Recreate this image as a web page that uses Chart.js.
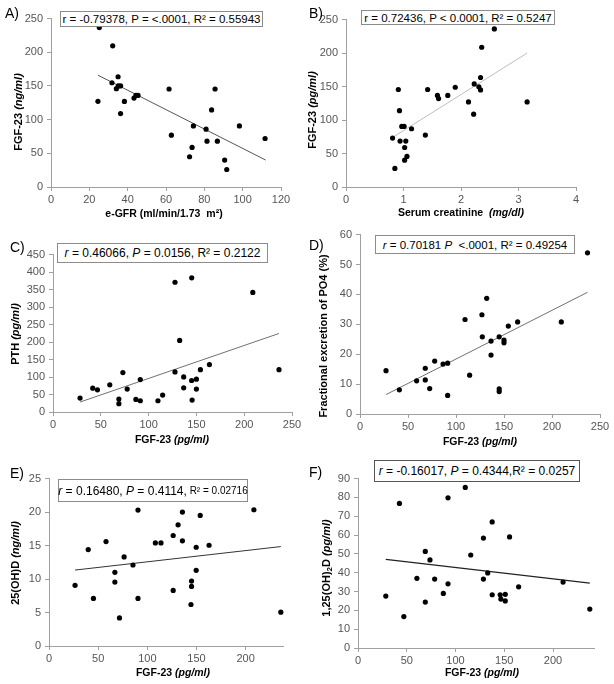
<!DOCTYPE html>
<html><head><meta charset="utf-8">
<script src="https://cdn.jsdelivr.net/npm/chart.js@4.4.0/dist/chart.umd.min.js"></script>
<style>
body{margin:0;background:#fff;width:614px;height:684px;overflow:hidden;position:relative;font-family:"Liberation Sans",Arial,sans-serif;color:#000;}
canvas{position:absolute;}
.lbl{position:absolute;font-size:14px;transform:translateY(-50%);z-index:5;}
.box{position:absolute;border:1px solid #8c8c8c;background:#fff;font-size:11.5px;white-space:nowrap;display:flex;align-items:center;justify-content:center;box-sizing:border-box;z-index:5;}
.xt{position:absolute;font-weight:bold;font-size:10.5px;transform:translate(-50%,-50%);white-space:nowrap;z-index:5;}
.yt{position:absolute;font-weight:bold;font-size:11px;transform:translate(-50%,-50%) rotate(-90deg);white-space:nowrap;z-index:5;}
i{font-style:italic;}
sub{font-size:8px;vertical-align:-2px;}
</style></head><body>
<div id="wrap"></div>
<div class="lbl" style="left:5px;top:13px">A)</div>
<div class="lbl" style="left:309px;top:13px">B)</div>
<div class="lbl" style="left:10px;top:247px">C)</div>
<div class="lbl" style="left:309px;top:245px">D)</div>
<div class="lbl" style="left:10px;top:473px">E)</div>
<div class="lbl" style="left:309px;top:472px">F)</div>

<div class="box" style="left:60px;top:11px;width:203px;height:16px">r = -0.79378, P = &lt;.0001, R² = 0.55943</div>
<div class="box" style="left:361px;top:10px;width:194px;height:15px">r = 0.72436, P &lt; 0.0001, R² = 0.5247</div>
<div class="box" style="left:57px;top:243px;width:211px;height:20px;font-size:12px"><i>r</i>&nbsp;= 0.46066,&nbsp;<i>P</i>&nbsp;= 0.0156, R² = 0.2122</div>
<div class="box" style="left:375px;top:235px;width:200px;height:19px"><i>r</i>&nbsp;= 0.70181&nbsp;<i>P</i>&nbsp; &lt;.0001, R² = 0.49254</div>
<div class="box" style="left:58px;top:479px;width:190px;height:23px;font-size:12px"><i>r</i>&nbsp;= 0.16480,&nbsp;<i>P</i>&nbsp;= 0.4114,<span style="font-size:10px">&nbsp;R² = 0.02716</span></div>
<div class="box" style="left:374px;top:460px;width:206px;height:22px;border:1.5px solid #555;font-size:12px"><i>r</i>&nbsp;= -0.16017,&nbsp;<i>P</i>&nbsp;= 0.4344,R² = 0.0257</div>

<div class="yt" style="left:18px;top:112px">FGF-23 <i>(ng/ml)</i></div>
<div class="yt" style="left:312px;top:110px">FGF-23 <i>(pg/ml)</i></div>
<div class="yt" style="left:15px;top:334px">PTH <i>(pg/ml)</i></div>
<div class="yt" style="left:323px;top:336px">Fractional excretion of PO4 (%)</div>
<div class="yt" style="left:15px;top:563px">25(OH)D <i>(ng/ml)</i></div>
<div class="yt" style="left:327px;top:568px">1,25(OH)<sub>2</sub>D <i>(pg/ml)</i></div>

<div class="xt" style="left:164px;top:213px">e-GFR (ml/min/1.73&nbsp; m²)</div>
<div class="xt" style="left:461px;top:212px">Serum creatinine&nbsp; <i>(mg/dl)</i></div>
<div class="xt" style="left:172px;top:439px">FGF-23 <i>(pg/ml)</i></div>
<div class="xt" style="left:480px;top:441px">FGF-23 <i>(pg/ml)</i></div>
<div class="xt" style="left:173px;top:672px">FGF-23 <i>(pg/ml)</i></div>
<div class="xt" style="left:482px;top:672px">FGF-23 <i>(pg/ml)</i></div>

<script>
// ---- Panel A: FGF-23 vs e-GFR
const egfrA = [25.2, 32.2, 24.5, 31.8, 35.0, 34.1, 35.1, 36.3, 38.3, 36.3, 43.3, 44.3, 45.4, 61.6, 62.8, 74.3, 73.6, 72.3, 80.9, 81.4, 85.6, 83.8, 86.8, 90.6, 91.7, 98.3, 111.7];
const fgfA  = [236.7, 209.6, 127.2, 154.8, 163.7, 146, 150, 150, 127, 109, 132, 136, 136, 145.5, 77, 90.7, 58.7, 44.9, 85.8, 68, 145.5, 114.4, 68, 40, 26, 90.7, 72];
const trendAx = [24.5, 112];
const trendAy = [166, 40];
const xTicksA = [0, 20, 40, 60, 80, 100, 120];
const yTicksA = [0, 50, 100, 150, 200, 250];

// ---- Panel B: FGF-23 vs serum creatinine
const creatB = [2.58, 2.36, 2.34, 2.23, 2.31, 2.34, 1.90, 1.42, 1.59, 1.61, 1.77, 2.13, 3.15, 2.22, 0.91, 0.93, 0.97, 1.01, 1.14, 1.38, 0.81, 0.94, 1.04, 1.02, 1.06, 1.02, 0.85];
const fgfB   = [236, 208.7, 163.5, 154, 149.6, 145, 149, 145.6, 136.7, 132, 136.7, 127, 127, 108.8, 145.6, 114, 90.5, 90.5, 87, 77.5, 73, 68.6, 68.6, 59, 45.7, 40, 27.8];
const trendBx = [0.81, 3.15];
const trendBy = [74, 200];
const xTicksB = [0, 1, 2, 3, 4];
const yTicksB = [0, 50, 100, 150, 200, 250];

// ---- Panel C: PTH vs FGF-23
const fgfC = [28.3, 41.6, 46.5, 59.4, 68.9, 68.9, 73.1, 77.6, 86.7, 91.3, 91.3, 109.8, 114.7, 127.6, 145.1, 132.5, 127.6, 136.7, 136.7, 145, 150, 150, 145.5, 154.2, 163.6, 209, 236.4];
const pthC = [39.8, 68, 63.5, 77.7, 37, 23.7, 112.7, 65.4, 36, 92.8, 32.2, 32.2, 48.3, 371, 383.7, 204.6, 114.6, 100.4, 69.2, 90, 93.8, 65.4, 34, 121, 135.5, 342, 121];
const trendCx = [28.3, 236.4];
const trendCy = [28.4, 224.5];
const xTicksC = [0, 50, 100, 150, 200, 250];
const yTicksC = [0, 50, 100, 150, 200, 250, 300, 350, 400, 450];

// ---- Panel D: Fractional excretion of PO4 vs FGF-23
const fgfD   = [27.1, 41, 59, 68, 68, 72.6, 77.8, 86.5, 91.3, 91.3, 109.4, 114.2, 127, 127.4, 132, 136.5, 136.5, 145, 145, 145, 150, 150, 154.5, 164.2, 209.7, 237];
const fepo4D = [14.5, 8.1, 11.1, 15.3, 11.4, 8.5, 17.7, 16.7, 17, 6.2, 31.6, 13, 33.2, 25.8, 38.7, 24.4, 19.7, 25.8, 8.4, 7.5, 24.7, 23.8, 29.4, 30.8, 30.8, 53.9];
const trendDx = [27.1, 237];
const trendDy = [6.5, 40.7];
const xTicksD = [0, 50, 100, 150, 200, 250];
const yTicksD = [0, 10, 20, 30, 40, 50, 60];

// ---- Panel E: 25(OH)D vs FGF-23
const fgfE = [26.5, 39.9, 45.2, 58, 67, 67, 71.7, 76.4, 85.4, 90.5, 90.5, 108.2, 113.9, 126.3, 126.3, 131.3, 135.7, 135.7, 144.4, 145, 145, 149.7, 149.7, 153.8, 162.8, 208.4, 235.8];
const vitDE = [9.06, 14.4, 7.1, 15.6, 11, 9.55, 4.2, 13.3, 12.1, 20.3, 7.1, 15.4, 15.4, 16.5, 8.3, 18.1, 20, 15.7, 6.2, 9.7, 8.9, 14.75, 11.3, 19.5, 15.05, 20.35, 5.05];
const trendEx = [26.5, 235.8];
const trendEy = [11.34, 14.85];
const xTicksE = [0, 50, 100, 150, 200];
const yTicksE = [0, 5, 10, 15, 20, 25];

// ---- Panel F: 1,25(OH)2D vs FGF-23
const fgfF = [28.5, 42.5, 47, 60.4, 69, 69, 73.8, 78.6, 87.5, 92.3, 92.3, 110, 115.6, 128.6, 128.6, 133, 137.6, 137.6, 145.8, 146.5, 151, 151, 155.4, 164.7, 210.3, 237.7];
const calcF = [27.6, 76.8, 16.7, 37, 51.3, 24.4, 46.8, 36.6, 29, 79.8, 34.1, 85.3, 49.4, 58.4, 36.6, 39.9, 67, 28.3, 28.3, 26, 28.5, 25, 59, 32.5, 35, 20.7];
const trendFx = [28.5, 237.7];
const trendFy = [47.1, 34.5];
const xTicksF = [0, 50, 100, 150, 200];
const yTicksF = [0, 10, 20, 30, 40, 50, 60, 70, 80, 90];

const PADL = 50, PADT = 10, PADR = 20, PADB = 30;

function pts(xs, ys) { return xs.map((x, i) => ({x: x, y: ys[i]})); }

function makePanel(rect, xs, ys, tx, ty, xTicks, yTicks, xMax, yMax, lineColor, lineWidth) {
  const c = document.createElement('canvas');
  const w = (rect.r - rect.l) + PADL + PADR;
  const h = (rect.b - rect.t) + PADT + PADB;
  c.width = w; c.height = h;
  c.style.left = (rect.l - PADL) + 'px';
  c.style.top = (rect.t - PADT) + 'px';
  c.style.width = w + 'px'; c.style.height = h + 'px';
  document.getElementById('wrap').appendChild(c);
  const axisCommon = {
    type: 'linear',
    grid: {display: true, drawOnChartArea: false, drawTicks: true, tickLength: 4, tickColor: '#a0a0a0', lineWidth: 1},
    border: {display: true, color: '#a0a0a0', width: 1},
  };
  new Chart(c, {
    type: 'scatter',
    data: {
      datasets: [
        {data: pts(xs, ys), backgroundColor: '#000', borderWidth: 0, pointRadius: 2.6, pointHoverRadius: 2.6, order: 1, clip: false},
        {type: 'line', data: pts(tx, ty), borderColor: lineColor, borderWidth: lineWidth, pointRadius: 0, fill: false, showLine: true, order: 2, clip: false}
      ]
    },
    options: {
      responsive: false, animation: false, devicePixelRatio: 1,
      layout: {padding: {left: 0, top: PADT, right: PADR, bottom: 0}},
      plugins: {legend: {display: false}, tooltip: {enabled: false}, title: {display: false}},
      scales: {
        x: Object.assign({}, axisCommon, {
          position: 'bottom', min: 0, max: xMax,
          afterBuildTicks: s => { s.ticks = xTicks.map(v => ({value: v})); },
          afterFit: s => { s.height = PADB; },
          ticks: {color: '#555', font: {family: 'Liberation Sans, Arial', size: 11}, padding: 2, maxRotation: 0, autoSkip: false}
        }),
        y: Object.assign({}, axisCommon, {
          position: 'left', min: 0, max: yMax,
          afterBuildTicks: s => { s.ticks = yTicks.map(v => ({value: v})); },
          afterFit: s => { s.width = PADL; },
          ticks: {color: '#555', font: {family: 'Liberation Sans, Arial', size: 11}, padding: 4, autoSkip: false}
        })
      }
    }
  });
}

makePanel({l: 51, r: 281, t: 18, b: 187}, egfrA, fgfA, trendAx, trendAy, xTicksA, yTicksA, 120, 250, '#555', 1);
makePanel({l: 346, r: 576, t: 19, b: 187}, creatB, fgfB, trendBx, trendBy, xTicksB, yTicksB, 4, 250, '#bdbdbd', 1);
makePanel({l: 53, r: 292, t: 254, b: 412}, fgfC, pthC, trendCx, trendCy, xTicksC, yTicksC, 250, 450, '#707070', 1);
makePanel({l: 360, r: 600, t: 234, b: 414}, fgfD, fepo4D, trendDx, trendDy, xTicksD, yTicksD, 250, 60, '#707070', 1);
makePanel({l: 49, r: 283, t: 478, b: 646}, fgfE, vitDE, trendEx, trendEy, xTicksE, yTicksE, 238, 25, '#333', 1);
makePanel({l: 358, r: 594, t: 478, b: 648}, fgfF, calcF, trendFx, trendFy, xTicksF, yTicksF, 242, 90, '#222', 1.3);
</script>
</body></html>
